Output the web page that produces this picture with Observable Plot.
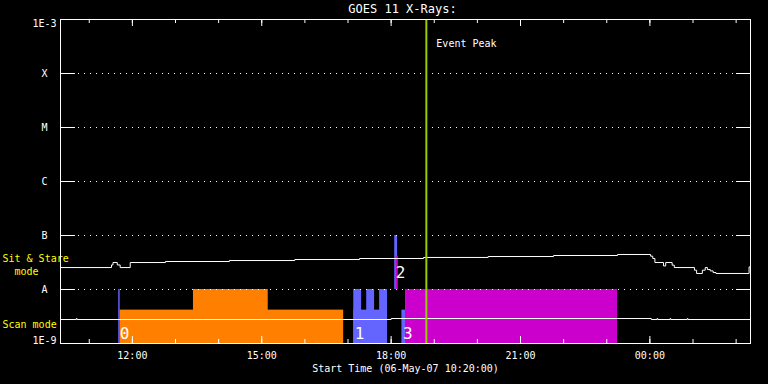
<!DOCTYPE html>
<html>
<head>
<meta charset="utf-8">
<script src="https://cdn.jsdelivr.net/npm/d3@7"></script>
<script src="https://cdn.jsdelivr.net/npm/@observablehq/plot@0.6"></script>
<style>
  html, body { margin: 0; padding: 0; background: #000; }
  svg text { white-space: pre; }
</style>
</head>
<body>
<div id="chart"></div>
<script>
// ---- Data ----
const dayStart = "2007-05-06", dayNext = "2007-05-07";
const timeDomain = ["10:20", "02:20"];

// GOES 1-8 A flux (upper white trace)
const sitTimes = ["10:20","11:31","11:33","11:39","11:43","11:57","12:46","14:15","15:46","17:16","18:45","20:15","21:46","23:15","00:01","00:04","00:07","00:19","00:22","00:31","00:34","01:02","01:05","01:13","01:17","01:20","01:24","01:28","01:32","02:18","02:20"];
const sitFlux  = [2.55e-8,2.85e-8,3.16e-8,2.85e-8,2.55e-8,3.16e-8,3.30e-8,3.44e-8,3.59e-8,3.75e-8,3.92e-8,4.08e-8,4.26e-8,4.45e-8,4.14e-8,3.75e-8,3.16e-8,2.73e-8,3.16e-8,2.82e-8,2.55e-8,2.28e-8,1.98e-8,2.28e-8,2.55e-8,2.34e-8,2.21e-8,2.06e-8,1.98e-8,2.62e-8,2.62e-8];

// GOES 0.5-4 A flux (lower white trace)
const scanTimes = ["10:20","10:42","10:43","18:00","00:02","00:10","00:11","00:28","00:29","00:52","00:53","02:20"];
const scanFlux  = [2.78e-9,2.90e-9,2.78e-9,2.90e-9,2.78e-9,2.90e-9,2.78e-9,2.90e-9,2.78e-9,2.90e-9,2.78e-9,2.78e-9];

// Observation blocks
const blockStart = ["11:41","11:43","13:25","17:08","17:08","17:26","17:44","18:05","18:07","18:15","18:20"];
const blockEnd   = ["11:43","16:54","15:09","17:55","17:19","17:37","17:55","18:09","18:10","18:20","23:15"];
const blockLow   = [1e-9,1e-9,1e-9,1e-9,1e-9,1e-9,1e-9,1e-8,1e-8,1e-9,1e-9];
const blockHigh  = [1e-8,4.15e-9,1e-8,4.15e-9,1e-8,1e-8,1e-8,1e-7,4.15e-8,4.15e-9,1e-8];
const blockKind  = ["prog B","prog A","prog A","prog B","prog B","prog B","prog B","prog B","prog C","prog B","prog C"];
const kindNames  = ["prog A","prog B","prog C"];
const kindColors = ["#ff8000","#6464ff","#cc00cc"];

// Block number labels
const labelText  = ["0","1","3"];
const labelTimes = ["11:41","17:08","18:15"];
const label2Text = "2", label2Time = "18:05", label2Low = 1e-8, label2High = 4.15e-8;

// Event peak
const peakTime = "18:49";
const peakLabel = "Event Peak";

// Y axis
const yTicks  = [1e-9,1e-8,1e-7,1e-6,1e-5,1e-4,1e-3];
const yLabels = ["1E-9","A","B","C","M","X","1E-3"];
const gridVals = [1e-8,1e-7,1e-6,1e-5,1e-4];

// X axis ticks
const hourTicks  = ["11:00","12:00","13:00","14:00","15:00","16:00","17:00","18:00","19:00","20:00","21:00","22:00","23:00","00:00","01:00","02:00"];
const majorTicks = ["12:00","15:00","18:00","21:00","00:00"];

const titleText = "GOES 11 X-Rays:";
const xLabelText = "Start Time (06-May-07 10:20:00)";

// ---- helpers ----
function t(s) {
  const h = +s.slice(0, 2);
  return new Date(`${h < 10 ? dayNext : dayStart}T${s}:00Z`);
}
const sit = sitTimes.map((s, i) => ({time: t(s), flux: sitFlux[i]}));
const scan = scanTimes.map((s, i) => ({time: t(s), flux: scanFlux[i]}));
const blocks = blockStart.map((s, i) => ({x1: t(s), x2: t(blockEnd[i]), y1: blockLow[i], y2: blockHigh[i], kind: blockKind[i]}));
const labels = labelText.map((s, i) => ({text: s, time: t(labelTimes[i])}));
const label2 = [{text: label2Text, time: t(label2Time), y: Math.sqrt(label2Low * label2High)}];
const yAxis = yTicks.map((v, i) => ({v, label: yLabels[i]}));

const W = 768, H = 384, mL = 60, mR = 18, mT = 19, mB = 41;
const frameH = H - mT - mB;
const frameW = W - mL - mR;

const chart = Plot.plot({
  width: W, height: H,
  marginLeft: mL, marginRight: mR, marginTop: mT, marginBottom: mB,
  style: {background: "#000", color: "#fff", fontFamily: "'DejaVu Sans Mono', monospace", fontSize: "10px", overflow: "visible"},
  x: {type: "utc", domain: timeDomain.map(t), axis: null},
  y: {type: "log", domain: [1e-9, 1e-3], axis: null},
  color: {type: "ordinal", domain: kindNames, range: kindColors, legend: false},
  marks: [
    // blocks
    Plot.rect(blocks, {x1: "x1", x2: "x2", y1: "y1", y2: "y2", fill: "kind"}),
    // grid dotted
    Plot.ruleY(gridVals, {stroke: "#fff", strokeDasharray: "1,5"}),
    Plot.ruleY(gridVals, {stroke: "#fff", insetRight: frameW - 15}),
    Plot.ruleY(gridVals, {stroke: "#fff", insetLeft: frameW - 14}),
    // flux traces
    Plot.lineY(sit, {x: "time", y: "flux", stroke: "#fff", strokeWidth: 1, curve: "step-after"}),
    Plot.lineY(scan, {x: "time", y: "flux", stroke: "#fff", strokeWidth: 1, curve: "step-after"}),
    // block labels
    Plot.text(labels, {x: "time", text: "text", frameAnchor: "bottom", dy: -10, dx: 1, textAnchor: "start", lineAnchor: "middle", fontSize: 16, fill: "#fff"}),
    Plot.text(label2, {x: "time", y: "y", text: "text", dx: 1, textAnchor: "start", lineAnchor: "middle", fontSize: 16, fill: "#fff"}),
    // event peak
    Plot.ruleX([t(peakTime)], {stroke: "#99cc00", strokeWidth: 2}),
    Plot.text([t(peakTime)], {x: d => d, text: () => peakLabel, frameAnchor: "top", dy: 24.5, dx: 10, textAnchor: "start", lineAnchor: "middle", fill: "#fff"}),
    // ticks (inward)
    Plot.ruleX(hourTicks.map(t), {stroke: "#fff", insetTop: frameH - 4}),
    Plot.ruleX(majorTicks.map(t), {stroke: "#fff", insetTop: frameH - 7}),
    Plot.ruleX(hourTicks.map(t), {stroke: "#fff", insetBottom: frameH - 4}),
    Plot.ruleX(majorTicks.map(t), {stroke: "#fff", insetBottom: frameH - 7}),
    // x tick labels
    Plot.text(majorTicks, {x: d => t(d), text: d => d, frameAnchor: "bottom", dy: 12, lineAnchor: "middle", fill: "#fff"}),
    // y labels
    Plot.text(yAxis.filter(d => d.v > 1e-9 && d.v < 1e-3), {y: "v", text: "label", frameAnchor: "left", dx: -16, textAnchor: "middle", lineAnchor: "middle", fill: "#fff"}),
    Plot.text(yAxis.filter(d => d.v === 1e-3), {y: "v", text: "label", frameAnchor: "left", dx: -16, dy: 4, textAnchor: "middle", lineAnchor: "middle", fill: "#fff"}),
    Plot.text(yAxis.filter(d => d.v === 1e-9), {y: "v", text: "label", frameAnchor: "left", dx: -16, dy: -3, textAnchor: "middle", lineAnchor: "middle", fill: "#fff"}),
    // mode labels
    Plot.text([sit[0]], {y: "flux", text: () => "Sit & Stare\n  mode", frameAnchor: "left", dx: -58, dy: -3, textAnchor: "start", lineAnchor: "middle", lineHeight: 1.3, fill: "#ffff00"}),
    Plot.text([scan[0]], {y: "flux", text: () => "Scan mode", frameAnchor: "left", dx: -58, dy: 5, textAnchor: "start", lineAnchor: "middle", fill: "#ffff00"}),
    // title and x label
    Plot.text([titleText], {text: d => d, frameAnchor: "top", dy: -10, dx: -3, lineAnchor: "middle", fontSize: 12, fill: "#fff"}),
    Plot.text([xLabelText], {text: d => d, frameAnchor: "bottom", dy: 25, lineAnchor: "middle", fill: "#fff"}),
    // frame
    Plot.frame({stroke: "#fff"})
  ]
});
document.getElementById("chart").appendChild(chart);
</script>
</body>
</html>
